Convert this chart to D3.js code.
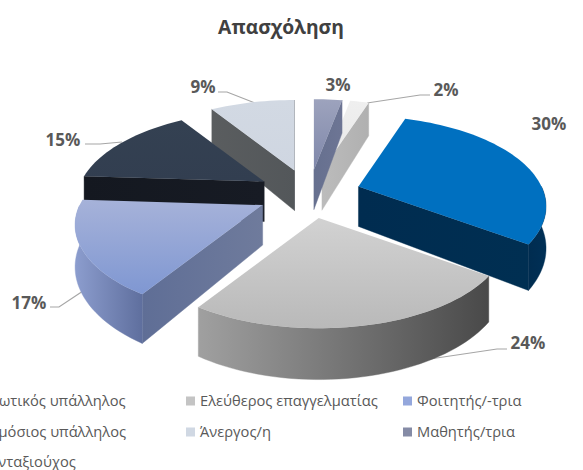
<!DOCTYPE html>
<html><head><meta charset="utf-8">
<script src="https://cdn.jsdelivr.net/npm/d3@7"></script>
<style>html,body{margin:0;padding:0;background:#fff;overflow:hidden}svg{display:block}
text{font-family:"Open Sans","Noto Sans",sans-serif}</style></head>
<body><svg id="c" width="583" height="470"></svg>
<script>
const title = "Απασχόληση";
const categories = ["Ιδιωτικός υπάλληλος","Ελεύθερος επαγγελματίας","Φοιτητής/-τρια","Δημόσιος υπάλληλος","Άνεργος/η","Μαθητής/τρια","Συνταξιούχος"];
const values = [30,24,17,15,9,3,2];

const topColors  = [["#0070c0","#0070c0"],["#d2d2d2","#b9b9b9"],["#a6b2d9","#7f97d2"],["#344152","#323e50"],["#d2d9e3","#cfd6e1"],["#9da3bd","#7f87aa"],["#efefef","#e8e8e8"]];
const rimColors  = [["#002c50","#003056"],["#a0a0a0","#494949"],["#8c9dce","#5f6f9e"],["#151a22","#151a22"],["#585b5d","#585b5d"],["#6a7292","#6a7292"],["#b6b6b6","#b6b6b6"]];
const wallColors = [["#002c50","#002f52"],["#a0a0a0","#494949"],["#5f6e96","#6f7b9c"],["#141820","#171b24"],["#5a5d5f","#53575a"],["#66708f","#6d7594"],["#bcbcbc","#b0b0b0"]];
const legendSwatch = ["#0070c0","#c4c4c4","#94a7dc","#333f50","#d0d8e3","#858ba6","#ededed"];
const drawOrder = [6,5,4,3,0,2,1];

const labelPos = [[549,124],[528,343],[29,303],[63,140],[203,87],[338,85],[446,90]];
const leaders = [null,[[507,349],[497,349],[403,363]],[[50,307],[59,307],[83,291]],[[85,144],[100,144],[122,142]],[[218,92],[227,92],[255,103]],null,[[430,95],[420,95],[367,103]]];
const legendCols = [-33,186,403], legendRows = [401,432,462];

const svg = d3.select("#c"), defs = svg.append("defs");
const R = 183, EXPLODE = 52, K = 0.47, PERSP = 0.22, DEPTH = 40, CX = 309, CY = 194;
const toRad = Math.PI/180;
const pie = d3.pie().sort(null).startAngle(18*toRad).endAngle(378*toRad);
const arcs = pie(values);
const sx = d3.scaleLinear().domain([-R,R]).range([-R,R]);
const sy = d3.scaleLinear().domain([-R,R]).range([K*R,-K*R]);
const line = d3.line().x(d=>d[0]).y(d=>d[1]);
function grad(id,c,x1,y1,x2,y2){
  const g = defs.append("linearGradient").attr("id",id).attr("gradientUnits","userSpaceOnUse")
    .attr("x1",x1).attr("y1",y1).attr("x2",x2).attr("y2",y2);
  g.append("stop").attr("offset",0).attr("stop-color",c[0]);
  g.append("stop").attr("offset",1).attr("stop-color",c[1]);
  return `url(#${id})`;
}
leaders.forEach(l=>{ if(l) svg.append("path").attr("d",line(l)).attr("fill","none").attr("stroke","#a6a6a6").attr("stroke-width",1.2); });
const gSl = svg.append("g");
drawOrder.forEach(i=>{
  const a = arcs[i], m = (a.startAngle+a.endAngle)/2;
  const apex = {x:CX+sx(EXPLODE*Math.sin(m)), y:CY+sy(EXPLODE*Math.cos(m)), d:DEPTH};
  const pt = t=>{
    const v=R*Math.cos(t), p=1+PERSP*v/R;
    return {x:apex.x+sx(R*Math.sin(t))/p, y:apex.y+sy(v)/p, d:DEPTH/p};
  };
  const n = Math.max(6,Math.ceil((a.endAngle-a.startAngle)/toRad/2));
  const ang = j=>a.startAngle+(a.endAngle-a.startAngle)*j/n;
  const rim = d3.range(n+1).map(j=>pt(ang(j)));
  const top = [apex,...rim];
  const ey = d3.extent(top,d=>d.y);
  const g = gSl.append("g");
  const quad = (pts,fill)=>g.append("path")
     .attr("d",line([...pts.map(p=>[p.x,p.y]),...pts.slice().reverse().map(p=>[p.x,p.y+p.d])])+"Z")
     .attr("fill",fill).attr("stroke",fill).attr("stroke-width",0.4);
  if (rim[0].x<apex.x) quad([apex,rim[0]],grad(`ws${i}`,wallColors[i],Math.min(apex.x,rim[0].x),0,Math.max(apex.x,rim[0].x),0));
  if (rim[n].x>apex.x) quad([rim[n],apex],grad(`we${i}`,wallColors[i],Math.min(apex.x,rim[n].x),0,Math.max(apex.x,rim[n].x),0));
  const vis = rim.filter((p,j)=>Math.cos(ang(j))<0.02);
  if (vis.length>1){
    const e=d3.extent(vis,d=>d.x);
    quad(vis,grad(`wr${i}`,rimColors[i],e[0],0,e[1],0));
  }
  g.append("path").attr("d",line(top.map(p=>[p.x,p.y]))+"Z")
   .attr("fill",grad(`t${i}`,topColors[i],0,ey[0],0,ey[1]));
});

values.forEach((v,i)=>svg.append("text").attr("x",labelPos[i][0]).attr("y",labelPos[i][1]).attr("dy","0.36em")
  .attr("text-anchor","middle").attr("font-size",17).attr("font-weight",700).attr("fill","#595959").text(v+"%"));
svg.append("text").attr("x",281).attr("y",27).attr("dy","0.36em").attr("text-anchor","middle")
  .attr("font-size",19.3).attr("font-weight",700).attr("fill","#404040").text(title);
categories.forEach((c,i)=>{
  const col=i%3,row=Math.floor(i/3);
  const x=legendCols[col],y=legendRows[row];
  svg.append("rect").attr("x",x).attr("y",y-4.5).attr("width",9).attr("height",9).attr("fill",legendSwatch[i]);
  svg.append("text").attr("x",x+14).attr("y",y).attr("dy","0.36em").attr("font-size",14.7).attr("fill","#595959").text(c);
});
</script></body></html>
